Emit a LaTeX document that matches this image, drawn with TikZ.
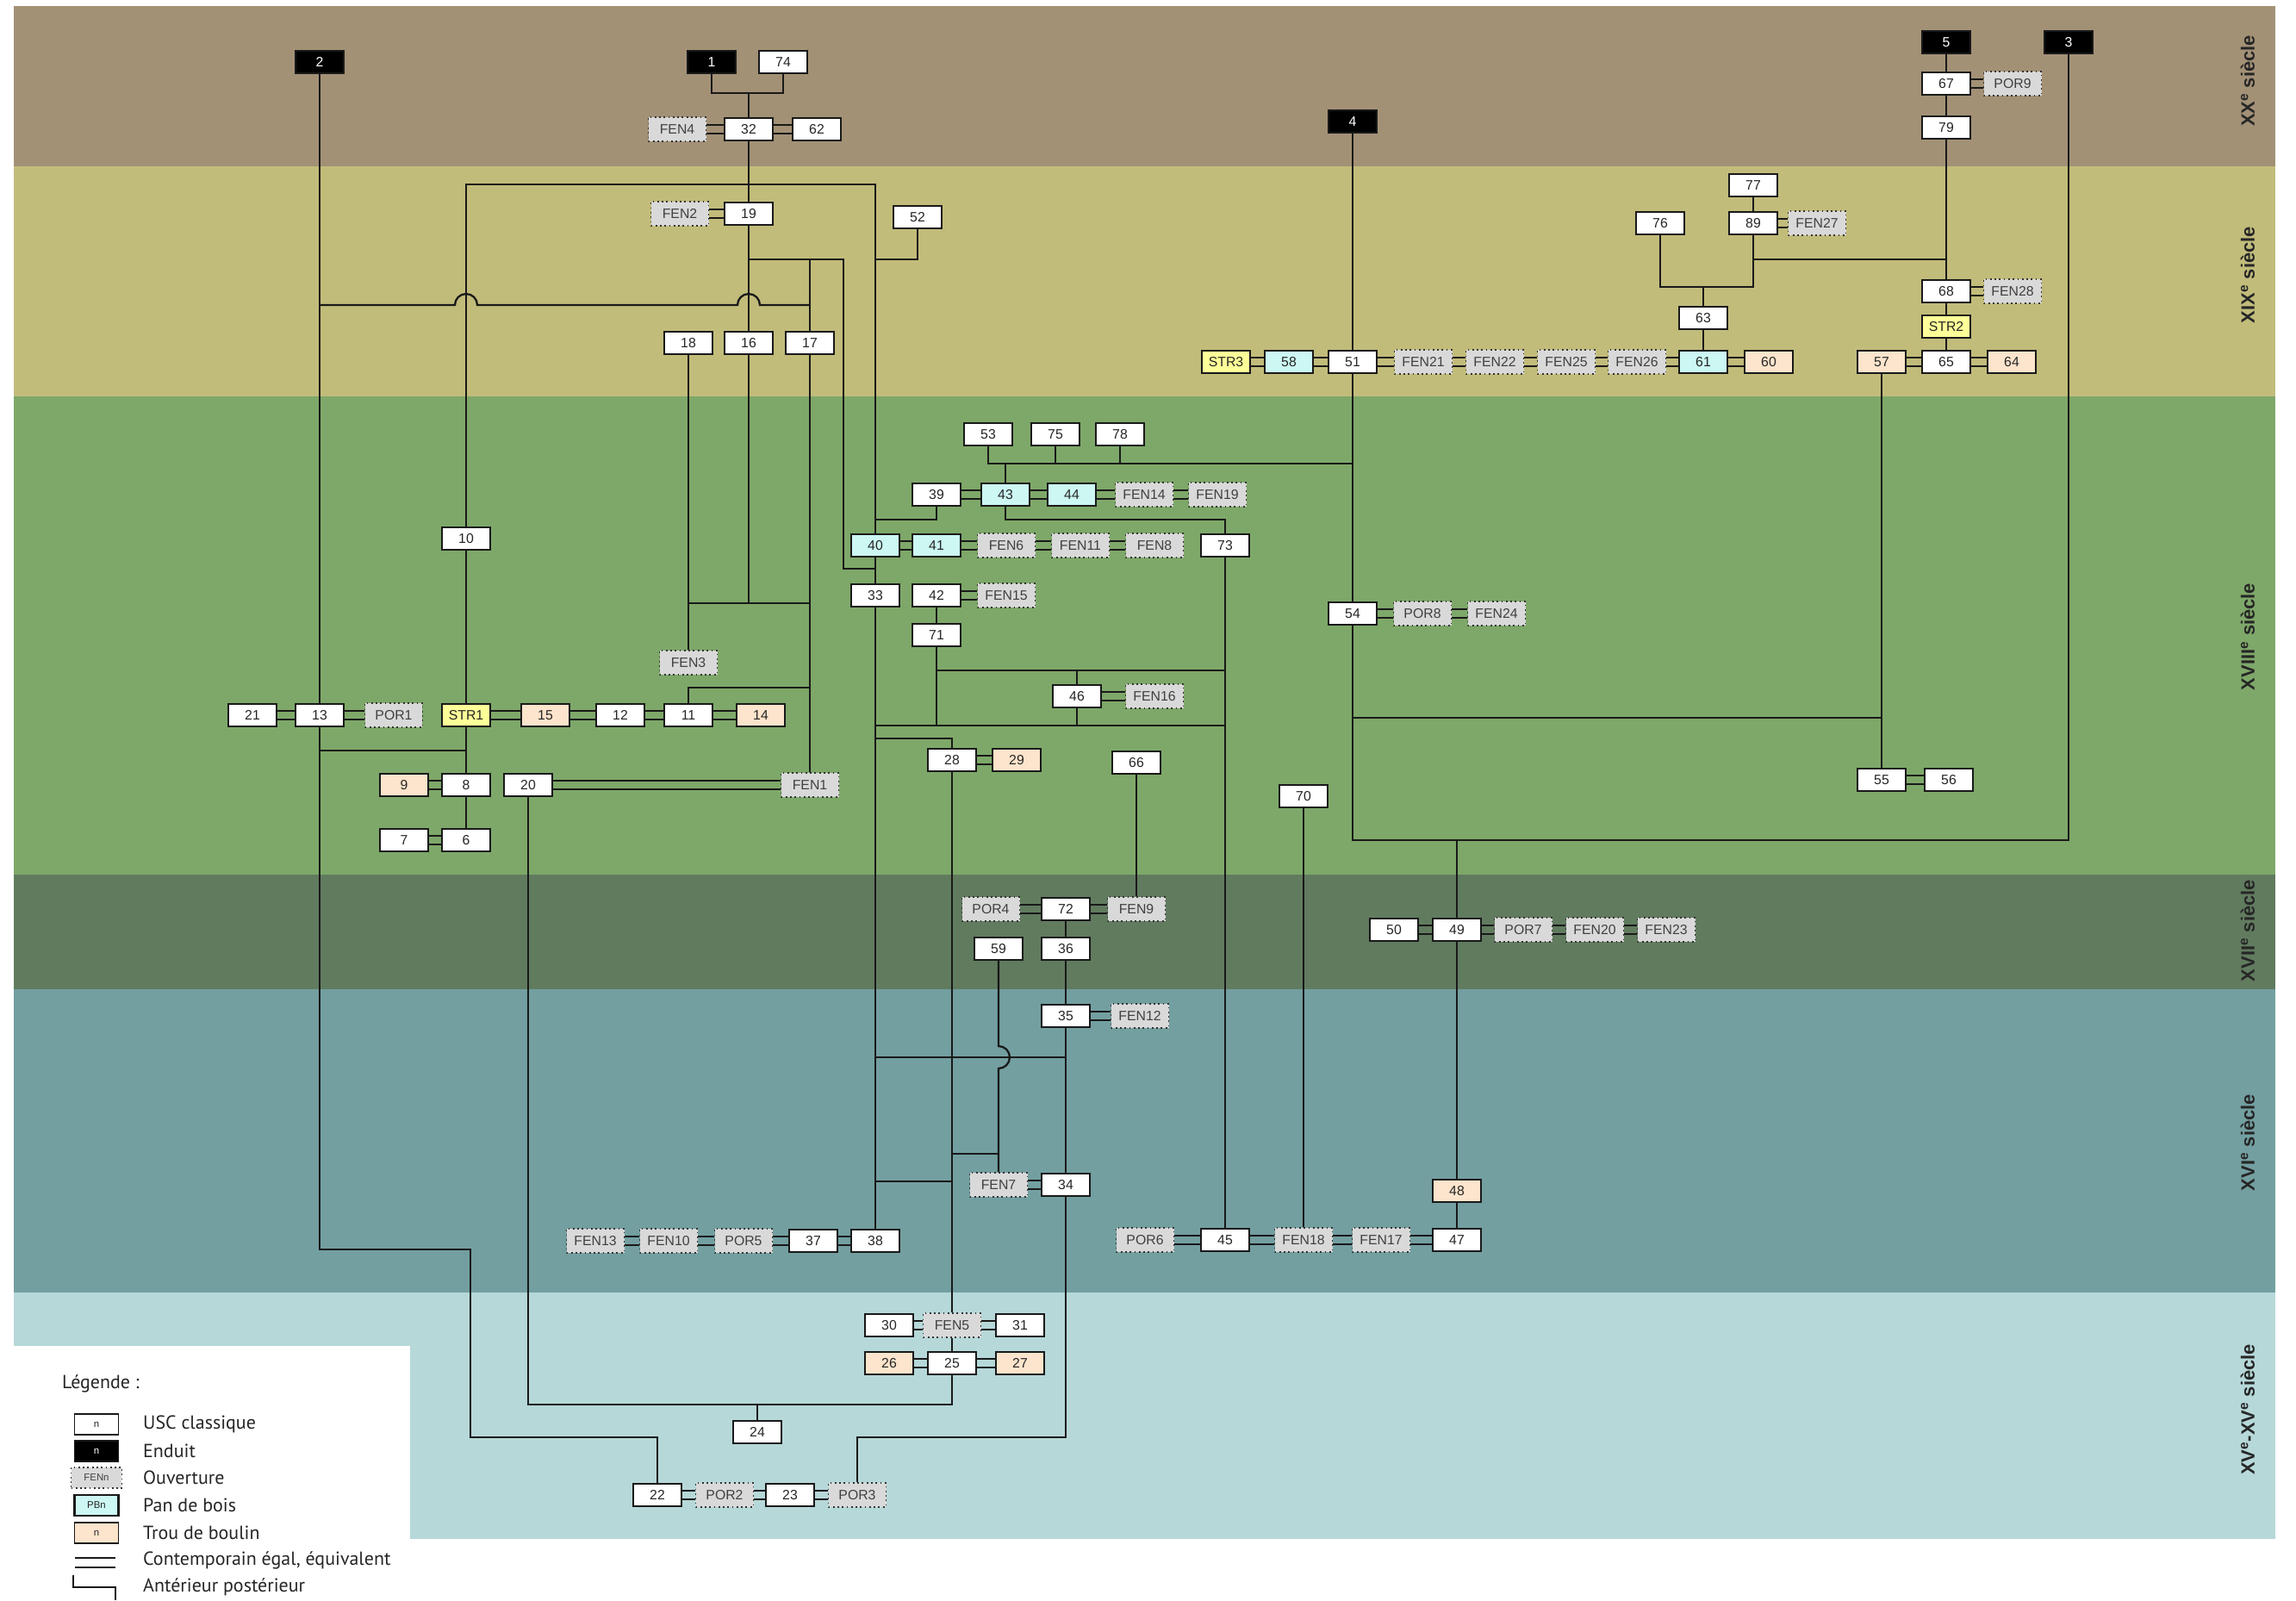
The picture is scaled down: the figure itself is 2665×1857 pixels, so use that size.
\documentclass[tikz,border=0pt]{standalone}
\usepackage{fontspec}
\setmainfont{Liberation Sans}
\newfontfamily\legendfont{PT Sans}
\definecolor{bandXX}{RGB}{163,145,118}
\definecolor{bandXIX}{RGB}{194,188,123}
\definecolor{bandXVIII}{RGB}{126,168,105}
\definecolor{bandXVII}{RGB}{97,123,95}
\definecolor{bandXVI}{RGB}{115,159,161}
\definecolor{bandXV}{RGB}{182,216,217}
\definecolor{fengray}{RGB}{217,217,217}
\definecolor{pbcyan}{RGB}{204,247,242}
\definecolor{troucol}{RGB}{253,228,204}
\definecolor{strcol}{RGB}{255,255,153}
\newcommand{\contemp}[2]{%
  \draw[lien] ([yshift=0.1cm]#1.east) -- ([yshift=0.1cm]#2.west);
  \draw[lien] ([yshift=-0.1cm]#1.east) -- ([yshift=-0.1cm]#2.west);}

\begin{document}
\begin{tikzpicture}[x=0.02cm, y=-0.02cm,
        unit/.style={draw=black!90, line width=1pt, minimum width=1.12cm, minimum height=0.52cm, inner sep=0pt, font=\fontsize{9}{10}\selectfont, text=black!85},
        usc/.style={unit, fill=white},
        enduit/.style={unit, fill=black, text=white},
        fen/.style={unit, fill=fengray, draw=black!80, dotted, minimum width=1.34cm, minimum height=0.56cm, text=black!75},
        pb/.style={unit, fill=pbcyan, line width=1.5pt},
        trou/.style={unit, fill=troucol},
        strn/.style={unit, fill=strcol},
        lien/.style={line width=1.3pt, black!90},
        siecle/.style={rotate=90, font=\bfseries\fontsize{12.5}{14}\selectfont, text=black!85},
        legicon/.style={minimum width=1.02cm, minimum height=0.48cm, font=\fontsize{6.5}{7}\selectfont},
        legtext/.style={anchor=west, font=\legendfont\fontsize{12.5}{14}\selectfont, text=black!85}]
        \useasboundingbox (0,0) rectangle (2665,1857);

        \fill[bandXX] (16,7) rectangle (2641,193);
        \fill[bandXIX] (16,193) rectangle (2641,460);
        \fill[bandXVIII] (16,460) rectangle (2641,1015);
        \fill[bandXVII] (16,1015) rectangle (2641,1148);
        \fill[bandXVI] (16,1148) rectangle (2641,1500);
        \fill[bandXV] (16,1500) rectangle (2641,1786);
        \fill[white] (16,1562) rectangle (476,1786);

        \node[siecle] (sXX) at (2609,94) {XX\textsuperscript{e} siècle};
        \node[siecle] (sXIX) at (2609,319) {XIX\textsuperscript{e} siècle};
        \node[siecle] (sXVIII) at (2609,739) {XVIII\textsuperscript{e} siècle};
        \node[siecle] (sXVII) at (2609,1080) {XVII\textsuperscript{e} siècle};
        \node[siecle] (sXVI) at (2609,1326) {XVI\textsuperscript{e} siècle};
        \node[siecle] (sXV) at (2609,1636) {XV\textsuperscript{e}-XV\textsuperscript{e} siècle};

        \node[enduit] (u2) at (371,72) {2};
        \node[enduit] (u1) at (826,72) {1};
        \node[enduit] (u4) at (1570,141) {4};
        \node[enduit] (u5) at (2259,49) {5};
        \node[enduit] (u3) at (2401,49) {3};

        \node[usc] (u74) at (909,72) {74};
        \node[fen] (fen4) at (786,150) {FEN4};
        \node[usc] (u32) at (869,150) {32};
        \node[usc] (u62) at (948,150) {62};
        \node[usc] (u67) at (2259,97) {67};
        \node[fen] (por9) at (2336,97) {POR9};
        \node[usc] (u79) at (2259,148) {79};

        \node[fen] (fen2) at (789,248) {FEN2};
        \node[usc] (u19) at (869,248) {19};
        \node[usc] (u52) at (1065,252) {52};
        \node[usc] (u18) at (799,398) {18};
        \node[usc] (u16) at (869,398) {16};
        \node[usc] (u17) at (940,398) {17};
        \node[usc] (u77) at (2035,215) {77};
        \node[usc] (u89) at (2035,259) {89};
        \node[fen] (fen27) at (2109,259) {FEN27};
        \node[usc] (u76) at (1927,259) {76};
        \node[usc] (u63) at (1977,369) {63};
        \node[usc] (u68) at (2259,338) {68};
        \node[fen] (fen28) at (2336,338) {FEN28};
        \node[strn] (str2) at (2259,379) {STR2};
        \node[strn] (str3) at (1423,420) {STR3};
        \node[pb] (pb58) at (1496,420) {58};
        \node[usc] (u51) at (1570,420) {51};
        \node[fen] (fen21) at (1652,420) {FEN21};
        \node[fen] (fen22) at (1735,420) {FEN22};
        \node[fen] (fen25) at (1818,420) {FEN25};
        \node[fen] (fen26) at (1900,420) {FEN26};
        \node[pb] (pb61) at (1977,420) {61};
        \node[trou] (t60) at (2053,420) {60};
        \node[trou] (t57) at (2184,420) {57};
        \node[usc] (u65) at (2259,420) {65};
        \node[trou] (t64) at (2335,420) {64};

        \node[usc] (u53) at (1147,504) {53};
        \node[usc] (u75) at (1225,504) {75};
        \node[usc] (u78) at (1300,504) {78};
        \node[usc] (u39) at (1087,574) {39};
        \node[pb] (pb43) at (1167,574) {43};
        \node[pb] (pb44) at (1244,574) {44};
        \node[fen] (fen14) at (1328,574) {FEN14};
        \node[fen] (fen19) at (1413,574) {FEN19};
        \node[usc] (u10) at (541,625) {10};
        \node[pb] (pb40) at (1016,633) {40};
        \node[pb] (pb41) at (1087,633) {41};
        \node[fen] (fen6) at (1168,633) {FEN6};
        \node[fen] (fen11) at (1254,633) {FEN11};
        \node[fen] (fen8) at (1340,633) {FEN8};
        \node[usc] (u73) at (1422,633) {73};
        \node[usc] (u33) at (1016,691) {33};
        \node[usc] (u42) at (1087,691) {42};
        \node[fen] (fen15) at (1168,691) {FEN15};
        \node[usc] (u71) at (1087,737) {71};
        \node[usc] (u54) at (1570,712) {54};
        \node[fen] (por8) at (1651,712) {POR8};
        \node[fen] (fen24) at (1737,712) {FEN24};
        \node[fen] (fen3) at (799,769) {FEN3};
        \node[usc] (u46) at (1250,808) {46};
        \node[fen] (fen16) at (1340,808) {FEN16};
        \node[usc] (u21) at (293,830) {21};
        \node[usc] (u13) at (371,830) {13};
        \node[fen] (por1) at (457,830) {POR1};
        \node[strn] (str1) at (541,830) {STR1};
        \node[trou] (t15) at (633,830) {15};
        \node[usc] (u12) at (720,830) {12};
        \node[usc] (u11) at (799,830) {11};
        \node[trou] (t14) at (883,830) {14};
        \node[usc] (u28) at (1105,882) {28};
        \node[trou] (t29) at (1180,882) {29};
        \node[usc] (u66) at (1319,885) {66};
        \node[usc] (u55) at (2184,905) {55};
        \node[usc] (u56) at (2262,905) {56};
        \node[trou] (t9) at (469,911) {9};
        \node[usc] (u8) at (541,911) {8};
        \node[usc] (u20) at (613,911) {20};
        \node[fen] (fen1) at (940,911) {FEN1};
        \node[usc] (u70) at (1513,924) {70};
        \node[usc] (u7) at (469,975) {7};
        \node[usc] (u6) at (541,975) {6};

        \node[fen] (por4) at (1150,1055) {POR4};
        \node[usc] (u72) at (1237,1055) {72};
        \node[fen] (fen9) at (1319,1055) {FEN9};
        \node[usc] (u59) at (1159,1101) {59};
        \node[usc] (u36) at (1237,1101) {36};
        \node[usc] (u50) at (1618,1079) {50};
        \node[usc] (u49) at (1691,1079) {49};
        \node[fen] (por7) at (1768,1079) {POR7};
        \node[fen] (fen20) at (1851,1079) {FEN20};
        \node[fen] (fen23) at (1934,1079) {FEN23};

        \node[usc] (u35) at (1237,1179) {35};
        \node[fen] (fen12) at (1323,1179) {FEN12};
        \node[fen] (fen7) at (1159,1375) {FEN7};
        \node[usc] (u34) at (1237,1375) {34};
        \node[trou] (t48) at (1691,1382) {48};
        \node[fen] (fen13) at (691,1440) {FEN13};
        \node[fen] (fen10) at (776,1440) {FEN10};
        \node[fen] (por5) at (863,1440) {POR5};
        \node[usc] (u37) at (944,1440) {37};
        \node[usc] (u38) at (1016,1440) {38};
        \node[fen] (por6) at (1329,1439) {POR6};
        \node[usc] (u45) at (1422,1439) {45};
        \node[fen] (fen18) at (1513,1439) {FEN18};
        \node[fen] (fen17) at (1603,1439) {FEN17};
        \node[usc] (u47) at (1691,1439) {47};

        \node[usc] (u30) at (1032,1538) {30};
        \node[fen] (fen5) at (1105,1538) {FEN5};
        \node[usc] (u31) at (1184,1538) {31};
        \node[trou] (t26) at (1032,1582) {26};
        \node[usc] (u25) at (1105,1582) {25};
        \node[trou] (t27) at (1184,1582) {27};
        \node[usc] (u24) at (879,1662) {24};
        \node[usc] (u22) at (763,1735) {22};
        \node[fen] (por2) at (841,1735) {POR2};
        \node[usc] (u23) at (917,1735) {23};
        \node[fen] (por3) at (995,1735) {POR3};

        \coordinate (j1) at (869,108);
        \coordinate (j2) at (371,354);
        \coordinate (j17) at (940,354);
        \coordinate (j19) at (869,301);
        \coordinate (j17t) at (940,301);
        \coordinate (j52) at (1016,301);
        \coordinate (j40) at (1016,660);
        \coordinate (j16) at (869,700);
        \coordinate (j18) at (799,700);
        \coordinate (j17b) at (940,700);
        \coordinate (j11) at (940,798);
        \coordinate (j13) at (371,871);
        \coordinate (j8) at (541,871);
        \coordinate (j51) at (1570,538);
        \coordinate (j39) at (1016,603);
        \coordinate (j73) at (1422,603);
        \coordinate (j71) at (1087,778);
        \coordinate (j73a) at (1422,778);
        \coordinate (j33) at (1016,842);
        \coordinate (j73b) at (1422,842);
        \coordinate (j28) at (1016,857);
        \coordinate (j36) at (1237,1227);
        \coordinate (j38) at (1016,1227);
        \coordinate (j7) at (1105,1339);
        \coordinate (j38b) at (1016,1371);
        \coordinate (j28b) at (1105,1371);
        \coordinate (j25) at (1105,1630);
        \coordinate (j24) at (879,1630);
        \coordinate (j3) at (2401,975);
        \coordinate (j54) at (1570,833);
        \coordinate (j57) at (2184,833);
        \coordinate (j49) at (1691,975);
        \coordinate (j79) at (2259,301);
        \coordinate (j89) at (2035,301);
        \coordinate (j63) at (1977,333);

        \draw[lien] (u1) |- (j1) -| (u74);
        \draw[lien] (j1) -- (u32);
        \draw[lien] (u32) -- (u19);
        \draw[lien] (u19) -- (u16);
        \draw[lien] (u2) -- (u13);
        \draw[lien] (j2) -- (528,354) arc[start angle=180, end angle=0, radius=0.26cm] -- (856,354) arc[start angle=180, end angle=0, radius=0.26cm] -- (j17);
        \draw[lien] (u10) |- (1016,214) -- (pb40);
        \draw[lien] (u52) |- (j52);
        \draw[lien] (j19) -- (979,301) |- (j40);
        \draw[lien] (j17t) -- (u17);
        \draw[lien] (u17) -- (fen1);
        \draw[lien] (u18) -- (fen3);
        \draw[lien] (j18) -- (j17b);
        \draw[lien] (u16) -- (j16);
        \draw[lien] (u11) |- (j11);
        \draw[lien] (u10) -- (str1);
        \draw[lien] (str1) -- (u8);
        \draw[lien] (u8) -- (u6);
        \draw[lien] (j13) -- (j8);
        \draw[lien] (u13) |- (546,1450) |- (763,1668) -- (u22);
        \draw[lien] (u20) |- (j25) -- (u25);
        \draw[lien] (u24) -- (j24);

        \draw[lien] (u53) |- (j51);
        \draw[lien] (u75) -- (1225,538);
        \draw[lien] (u78) -- (1300,538);
        \draw[lien] (pb43) -- (1167,538);
        \draw[lien] (u39) |- (j39);
        \draw[lien] (pb43) |- (j73) -- (u73);
        \draw[lien] (u73) -- (u45);
        \draw[lien] (pb40) -- (u33);
        \draw[lien] (u33) -- (u38);
        \draw[lien] (u42) -- (u71);
        \draw[lien] (u71) -- (1087,842);
        \draw[lien] (j71) -- (j73a);
        \draw[lien] (u46) -- (1250,778);
        \draw[lien] (u46) -- (1250,842);
        \draw[lien] (j33) -- (j73b);
        \draw[lien] (j28) -| (u28);
        \draw[lien] (u28) -- (fen5);
        \draw[lien] (fen5) -- (u25);
        \draw[lien] (j7) -- (1159,1339);
        \draw[lien] (j38b) -- (j28b);
        \draw[lien] (j38) -- (j36);
        \draw[lien] (u59) -- (1159,1214) arc[start angle=90, end angle=-90, radius=0.26cm] -- (fen7);
        \draw[lien] (u72) -- (u36);
        \draw[lien] (u36) -- (u35);
        \draw[lien] (u35) -- (u34);
        \draw[lien] (u66) -- (fen9);
        \draw[lien] (u34) |- (995,1668) -- (por3);

        \draw[lien] (u4) -- (u51);
        \draw[lien] (u51) -- (u54);
        \draw[lien] (u54) |- (j3) -- (u3);
        \draw[lien] (j54) -- (j57);
        \draw[lien] (t57) -- (u55);
        \draw[lien] (j49) -- (u49);
        \draw[lien] (u49) -- (t48);
        \draw[lien] (t48) -- (u47);
        \draw[lien] (u70) -- (fen18);
        \draw[lien] (u5) -- (u67);
        \draw[lien] (u67) -- (u79);
        \draw[lien] (u79) -- (u68);
        \draw[lien] (u68) -- (str2);
        \draw[lien] (str2) -- (u65);
        \draw[lien] (u77) -- (u89);
        \draw[lien] (u89) |- (1927,333) -- (u76);
        \draw[lien] (j89) -- (j79);
        \draw[lien] (u63) -- (j63);
        \draw[lien] (u63) -- (pb61);

        \contemp{fen4}{u32} \contemp{u32}{u62}
        \contemp{fen2}{u19}
        \contemp{u67}{por9} \contemp{u68}{fen28} \contemp{u89}{fen27}
        \contemp{str3}{pb58} \contemp{pb58}{u51} \contemp{u51}{fen21} \contemp{fen21}{fen22}
        \contemp{fen22}{fen25} \contemp{fen25}{fen26} \contemp{fen26}{pb61} \contemp{pb61}{t60}
        \contemp{t57}{u65} \contemp{u65}{t64}
        \contemp{u39}{pb43} \contemp{pb43}{pb44} \contemp{pb44}{fen14} \contemp{fen14}{fen19}
        \contemp{pb40}{pb41} \contemp{pb41}{fen6} \contemp{fen6}{fen11} \contemp{fen11}{fen8}
        \contemp{u42}{fen15}
        \contemp{u46}{fen16}
        \contemp{u54}{por8} \contemp{por8}{fen24}
        \contemp{u21}{u13} \contemp{u13}{por1}
        \contemp{str1}{t15} \contemp{t15}{u12} \contemp{u12}{u11} \contemp{u11}{t14}
        \contemp{t9}{u8} \contemp{u7}{u6} \contemp{u20}{fen1}
        \contemp{u28}{t29}
        \contemp{u55}{u56}
        \contemp{por4}{u72} \contemp{u72}{fen9}
        \contemp{u35}{fen12}
        \contemp{u50}{u49} \contemp{u49}{por7} \contemp{por7}{fen20} \contemp{fen20}{fen23}
        \contemp{fen7}{u34}
        \contemp{fen13}{fen10} \contemp{fen10}{por5} \contemp{por5}{u37} \contemp{u37}{u38}
        \contemp{por6}{u45} \contemp{u45}{fen18} \contemp{fen18}{fen17} \contemp{fen17}{u47}
        \contemp{u30}{fen5} \contemp{fen5}{u31}
        \contemp{t26}{u25} \contemp{u25}{t27}
        \contemp{u22}{por2} \contemp{por2}{u23} \contemp{u23}{por3}

        \node[legtext] (legende) at (66,1606) {Légende :};
        \node[usc, legicon] (lusc) at (112,1653) {n};
        \node[enduit, legicon] (lenduit) at (112,1684) {n};
        \node[fen, legicon, minimum width=1.18cm] (lfen) at (112,1715) {FENn};
        \node[pb, legicon] (lpb) at (112,1747) {PBn};
        \node[trou, legicon] (ltrou) at (112,1779) {n};
        \draw[lien] (87,1808) -- (134,1808);
        \draw[lien] (87,1819) -- (134,1819);
        \draw[lien] (85,1828) -- (85,1842) -- (134,1842) -- (134,1857);
        \node[legtext] (tusc) at (160,1653) {USC classique};
        \node[legtext] (tenduit) at (160,1684) {Enduit};
        \node[legtext] (tfen) at (160,1715) {Ouverture};
        \node[legtext] (tpb) at (160,1747) {Pan de bois};
        \node[legtext] (ttrou) at (160,1779) {Trou de boulin};
        \node[legtext] (tcont) at (160,1811) {Contemporain égal, équivalent};
        \node[legtext] (tant) at (160,1842) {Antérieur postérieur};
    \end{tikzpicture}
\end{document}
